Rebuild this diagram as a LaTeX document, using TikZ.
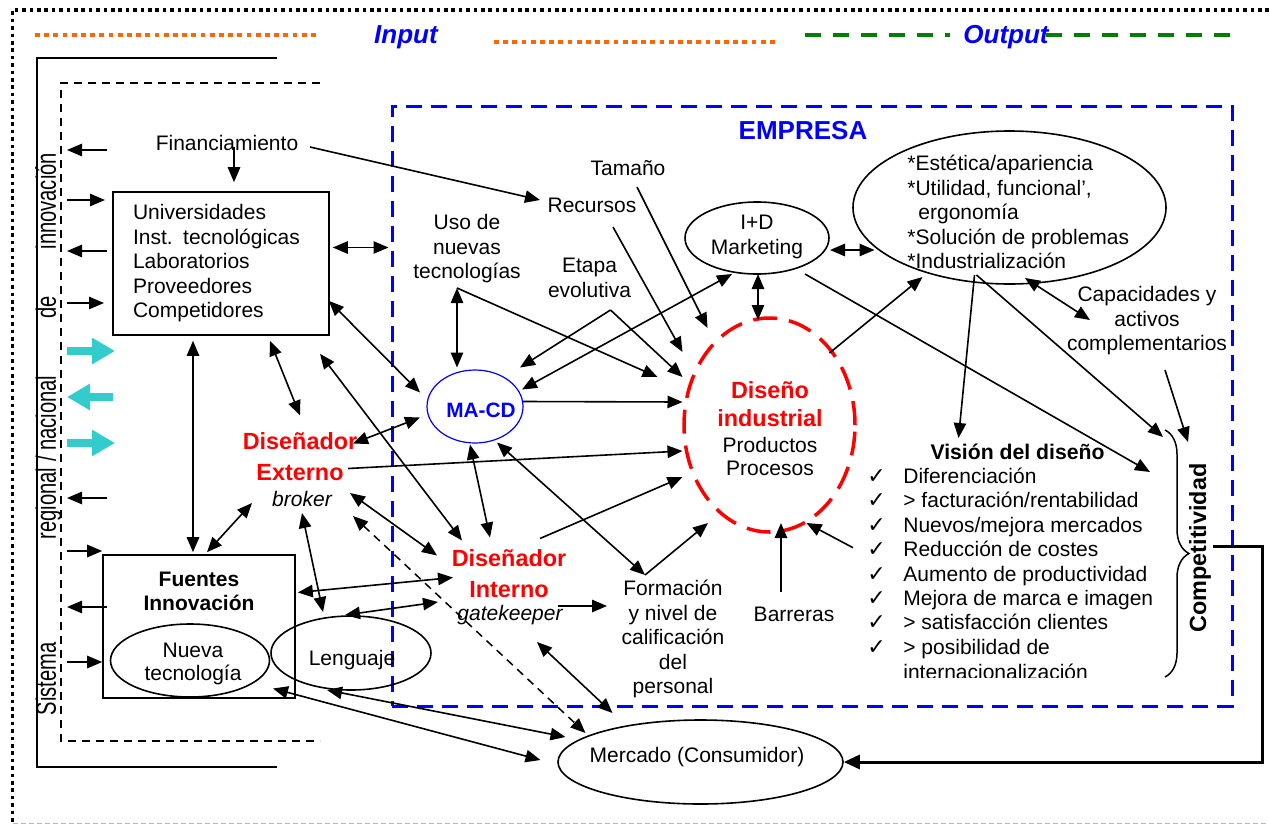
\documentclass[tikz,border=0pt]{standalone}
\usepackage{fontspec}
\setmainfont{Liberation Sans}
\newfontfamily\checkglyphfont{DejaVu Sans}
\usetikzlibrary{arrows.meta,shapes.geometric,calc,decorations.pathreplacing}

\definecolor{empblue}{RGB}{0,0,255}
\definecolor{dred}{RGB}{255,0,0}
\definecolor{outgreen}{RGB}{0,128,0}
\definecolor{inorange}{RGB}{255,102,0}
\definecolor{flowcyan}{RGB}{51,204,204}

\newcommand\mainsz{\fontsize{10.5}{12.25}\selectfont}

\begin{document}
\begin{tikzpicture}[x=0.5pt,y=-0.5pt,
  >={Triangle[length=7.5pt,width=6.2pt]},
  every node/.style={inner sep=0pt, font=\mainsz},
  txt/.style={align=center},
  arr/.style={->, line width=0.8pt},
  darr/.style={<->, line width=0.8pt},
  ddash/.style={<->, line width=0.75pt, dash pattern=on 4pt off 3pt},
  ell/.style={ellipse, draw, line width=0.8pt},
  box/.style={draw, line width=0.8pt},
  dtitle/.style={align=center, text=dred, font=\fontsize{11.7}{15.5}\selectfont\bfseries},
  inout/.style={text=empblue, font=\fontsize{13}{15}\selectfont\bfseries\itshape},
  cyanarrow/.style={-{Triangle[length=11.5pt,width=12.5pt]}, line width=4pt, flowcyan},
  feedback/.style={-{Triangle[length=8pt,width=7pt]}, line width=1.5pt}]

\useasboundingbox (0,0) rectangle (1269,825);

% outer frame
\draw[line width=1.8pt, dash pattern=on 1.8pt off 1.9pt] (1269,10) -- (12.5,10) -- (12.5,822);
\draw[gray!55, line width=0.5pt, dash pattern=on 2.5pt off 1.5pt] (12.5,823) -- (1269,823);

% input / output lines
\draw[inorange, line width=2pt, dash pattern=on 2.4pt off 2.2pt] (35,35) -- (320,35);
\draw[inorange, line width=2pt, dash pattern=on 2.4pt off 2.2pt] (494,42) -- (777,42);
\draw[outgreen, line width=1.6pt, dash pattern=on 8pt off 6pt] (805,35) -- (950,35);
\draw[outgreen, line width=1.6pt, dash pattern=on 8pt off 6pt] (1046,35) -- (1230,35);
\node[inout] (inp) at (406,37) {Input};
\node[inout] (outp) at (1006,37) {Output};

% regional / national system frames
\draw[line width=0.8pt] (277,58) -- (37,58) -- (37,767) -- (277,767);
\draw[line width=0.75pt, dash pattern=on 4pt off 3pt] (320,83) -- (61,83) -- (61,741) -- (320,741);
\node[rotate=90] (sis) at (48.5,434)
  {\scalebox{0.72}[1]{\fontsize{14}{16}\selectfont\makebox[390.3pt]{Sistema\hspace{71.5pt}regional / nacional\hspace{39.6pt}de\hfill innovación}}};

% company frame
\node[draw=empblue, line width=1.5pt, dash pattern=on 8pt off 4.5pt,
      minimum width=420pt, minimum height=300pt] (emp) at (812,406) {};
\node[text=empblue, font=\fontsize{13}{15}\selectfont\bfseries] (emptitle) at (803,131) {EMPRESA};

% external actors
\node (fin) at (227,143) {Financiamiento};
\node[box, minimum width=108pt, minimum height=71.5pt, text width=88pt, align=left]
  (uni) at (221,263.5) {Universidades\\Inst. tecnológicas\\Laboratorios\\Proveedores\\Competidores};
\node[box, minimum width=96pt, minimum height=71.5pt] (fue) at (199,626.5) {};
\node[txt, font=\fontsize{10.5}{12}\selectfont\bfseries] (fuet) at (199,591) {Fuentes\\Innovación};
\node[ell, minimum width=79.5pt, minimum height=36.5pt] (nueva) at (190,660.5) {};
\node[txt, font=\fontsize{10.5}{11.5}\selectfont] (nuevat) at (193,663.5) {Nueva\\tecnología};
\node[ell, minimum width=80pt, minimum height=37pt] (leng) at (351,653) {};
\node (lengt) at (352,660) {Lenguaje};

% designers
\node[dtitle] (ext) at (300,456.5) {Diseñador\\Externo};
\node[font=\mainsz\itshape] (brk) at (302,499) {broker};
\node[dtitle] (int) at (509,573.5) {Diseñador\\Interno};
\node[font=\mainsz\itshape] (gk) at (510,615) {gatekeeper};

% company internals
\node[ell, draw=empblue, line width=0.6pt, minimum width=48pt, minimum height=36.5pt] (macd) at (475,406.5) {};
\node[text=empblue, font=\fontsize{10.4}{12}\selectfont\bfseries] (macdt) at (481,410) {MA-CD};
\node[ell, draw=dred, line width=1.75pt, dash pattern=on 12pt off 6pt,
      minimum width=85.5pt, minimum height=107pt] (di) at (769.5,425) {};
\node[dtitle, font=\fontsize{11.7}{14}\selectfont\bfseries] (dit) at (770,404) {Diseño\\industrial};
\node[txt, font=\fontsize{10.5}{11.5}\selectfont] (dis) at (770,456.5) {Productos\\Procesos};
\node[ell, minimum width=72pt, minimum height=36pt] (imd) at (757,238) {};
\node[txt] (imdt) at (757,237) {I+D\\Marketing};
\node[ell, minimum width=156.5pt, minimum height=76.5pt] (est) at (1009.5,207.5) {};
\node[align=left, anchor=west] (estt) at (907,212)
  {*Estética/apariencia\\*Utilidad, funcional’,\\ \hspace*{5.5pt}ergonomía\\*Solución de problemas\\*Industrialización};
\node (tam) at (628,168) {Tamaño};
\node (rec) at (592,205) {Recursos};
\node[txt] (uso) at (467,249) {Uso de\\nuevas\\tecnologías};
\node[txt] (eta) at (589.5,278) {Etapa\\evolutiva};
\node[txt] (cap) at (1147,321) {Capacidades y\\activos\\complementarios};
\node[font=\fontsize{10.6}{12}\selectfont\bfseries] (vis) at (1017.5,452) {Visión del diseño};
\node (bar) at (794,614) {Barreras};
\node[txt] (form) at (673,639) {Formación\\y nivel de\\calificación\\del\\personal};
\node[ell, minimum width=142.5pt, minimum height=42pt] (mer) at (700.5,762) {};
\node (mert) at (697,757) {Mercado (Consumidor)};
\node[rotate=90, font=\fontsize{11.7}{14}\selectfont\bfseries] (comp) at (1200,548) {Competitividad};

% design vision checklist, cut at its lower edge
\begin{scope}
  \clip (850,460) rectangle (1160,677);
  \foreach \t [count=\i] in {Diferenciación, > facturación/rentabilidad, Nuevos/mejora mercados,
      Reducción de costes, Aumento de productividad, Mejora de marca e imagen,
      > satisfacción clientes, > posibilidad de}
    \node[anchor=base west] (vl\i) at (867,{483.5+24.4*(\i-1)})
      {\makebox[18pt][l]{\checkglyphfont\fontsize{11}{11}\selectfont ✓}\t};
  \node[anchor=base west] (vl9) at (903,679.5) {internacionalización};
\end{scope}
\draw[line width=0.75pt, decorate, decoration={brace, amplitude=12pt}] (1165,430) -- (1165,677);

% exchanges with the surrounding system
\foreach \yy in {150,251,498,607} \draw[arr] (107,\yy) -- (67,\yy);
\draw[arr] (67,200) -- (105,200);
\draw[arr] (67,303) -- (104,303);
\draw[arr] (67,551) -- (fue.west |- 0,551);
\draw[arr] (67,662) -- (fue.west |- 0,662);
\draw[cyanarrow] (67,351) -- (115,351);
\draw[cyanarrow] (113,397) -- (67,397);
\draw[cyanarrow] (67,443) -- (115,443);

% connectors
\draw[arr] ($(fin)+(7,4)$) -- ($(uni.north)+(13,-9)$);
\draw[arr] ($(fin)+(83,4)$) -- ($(rec)+(-52,-5)$);
\draw[darr] ($(uni.east)+(3,-16)$) -- ($(emp.west |- uni.east)+(-2,-16)$);
\draw[darr] ($(uni.south)+(49,5)$) -- ($(ext)+(0,-41)$);
\draw[darr] ($(uni.south east)+(-1,-35)$) -- ($(macd)+(-55,-14)$);
\draw[darr] ($(uni.south)+(99,18)$) -- ($(int)+(-47,-33)$);
\draw[darr] ($(uni.south)+(-28,5)$) -- ($(fue.north)+(-6,-2)$);
\draw[darr] ($(fue.north)+(8,-2)$) -- ($(brk)+(-50,4)$);
\draw[darr] ($(brk)+(0,14)$) -- ($(leng)+(-28,-41)$);
\draw[darr] ($(brk)+(48,-6)$) -- ($(int)+(-72,-18)$);
\draw[ddash] ($(brk)+(51,17)$) -- ($(mer)+(-115,-29)$);
\draw[arr] ($(ext)+(48,12)$) -- ($(di)+(-87,26)$);
\draw[darr] ($(ext)+(53,-13)$) -- ($(macd)+(-55,11)$);
\draw[darr] ($(fue.east)+(2,-34)$) -- ($(int)+(-56,4)$);
\draw[darr] ($(leng)+(-6,-38)$) -- ($(gk)+(-72,-13)$);
\draw[darr] ($(leng)+(-24,37)$) -- ($(mer)+(-135,-25)$);
\draw[darr] ($(nueva)+(83,28)$) -- ($(mer)+(-160,-2)$);
\draw[darr] ($(macd)+(-5,38)$) -- ($(int)+(-19,-36)$);
\draw[darr] ($(macd)+(22,36)$) -- ($(form)+(-28,-64)$);
\draw[arr] ($(form)+(-28,-64)$) -- ($(di)+(-61.5,98)$);
\draw[arr] ($(gk)+(48,-9)$) -- ($(form)+(-66,-33)$);
\draw[arr] ($(int)+(31,-35)$) -- ($(di)+(-87,52)$);
\draw[darr] ($(gk)+(27,27)$) -- ($(mer)+(-88,-49)$);
\draw[arr] ($(bar)+(-13,-22)$) -- ($(di)+(11.5,98)$);
\draw[arr] ($(vl4.base west)+(-14,-9)$) -- ($(di)+(37,98)$);
\draw[arr] ($(macd)+(48,-5)$) -- ($(di)+(-87,-23)$);
\draw[darr] ($(uso)+(-10,39)$) -- ($(macd)+(-18,-39)$);
\draw[arr] ($(uso)+(-10,39)$) -- ($(di)+(-112,-48)$);
\draw[arr] ($(eta)+(21,32)$) -- ($(macd)+(45,-39)$);
\draw[arr] ($(eta)+(21,32)$) -- ($(di)+(-87,-48)$);
\draw[arr] ($(tam)+(9,19)$) -- ($(di)+(-62,-97)$);
\draw[arr] ($(rec)+(21,22)$) -- ($(di)+(-87,-73)$);
\draw[darr] ($(imd)+(-25,36)$) -- ($(macd)+(47,-17)$);
\draw[darr] ($(imd)+(1,36)$) -- ($(di)+(-11.5,-105)$);
\draw[darr] ($(imd)+(73,12)$) -- ($(est)+(-135,42.5)$);
\draw[arr] ($(imd)+(48,36)$) -- ($(comp)+(-50,-76)$);
\draw[arr] ($(di)+(60,-72)$) -- ($(est)+(-87,69.5)$);
\draw[arr] ($(est)+(-35,67.5)$) -- ($(vis)+(-59,-14)$);
\draw[arr] ($(est)+(-33,67.5)$) -- ($(comp)+(-37,-111)$);
\draw[darr] ($(est)+(15.5,70.5)$) -- ($(cap)+(-57,-1)$);
\draw[arr] ($(cap)+(18,49)$) -- ($(comp)+(-12,-106)$);
\draw[feedback] ($(comp)+(13,-2)$) -- ++(49,0) |- (mer.east);

\end{tikzpicture}
\end{document}
